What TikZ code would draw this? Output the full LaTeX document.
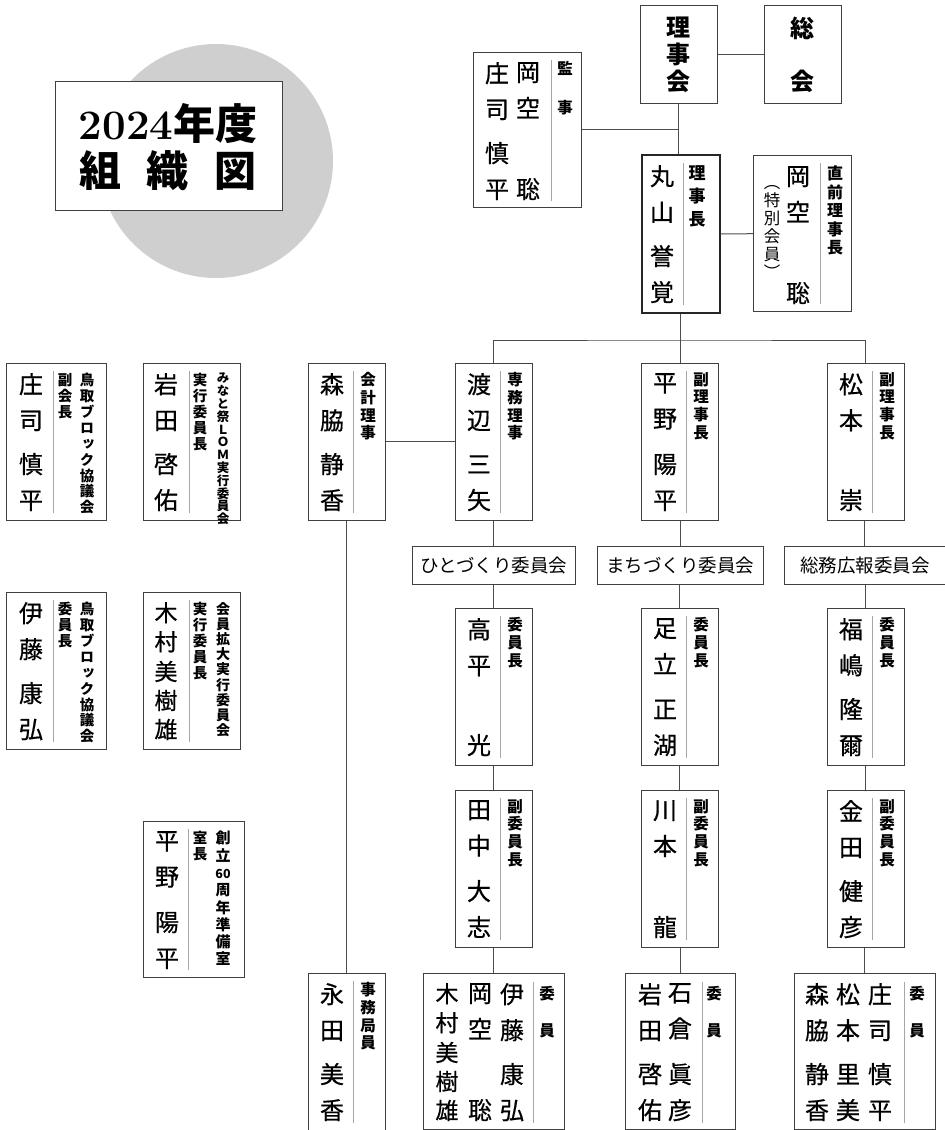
\documentclass[tikz,border=0pt]{standalone}
\usepackage{fontspec}
\newfontfamily\jp{Noto Sans CJK JP}
\newfontfamily\jpname[FakeBold=0.6]{Noto Sans CJK JP}
\newfontfamily\jpv[RawFeature=+vert]{Noto Sans CJK JP}

% vertical stacking of characters
\makeatletter
\def\tate@stop{\tate@stop}
\def\tate@#1{\ifx#1\tate@stop\else\hbox to 1em{\hss#1\hss}\expandafter\tate@\fi}
\newcommand\tate[1]{\vbox{\tate@#1\tate@stop}}
\newcommand\vname[3][136pt]{\vbox to #1{\tate@#2\tate@stop\vfill\tate@#3\tate@stop}}
\makeatother
\newcommand\sixty{\fontsize{12.5}{12.5}\selectfont 60}

\tikzset{
  card/.style={draw=black!75, line width=0.9pt, anchor=north west, inner sep=0pt,
    minimum width=77pt, minimum height=157pt},
  namecol/.style={anchor=north, inner sep=0pt, font=\jpname\fontsize{24}{36}\selectfont},
  titlecol/.style={anchor=north, inner sep=0pt, font=\jpv\bfseries\fontsize{15.5}{17.8}\selectfont},
  smalltitle/.style={titlecol, font=\jpv\bfseries\fontsize{14.5}{15.9}\selectfont},
  divider/.style={draw=black!35, line width=0.7pt},
  link/.style={draw=black!70, line width=1pt},
  bukai/.style={draw=black!75, line width=0.9pt, anchor=north west, inner sep=0pt,
    minimum height=38pt, font=\jp\fontsize{18.5}{20}\selectfont},
}

% one officer: id, x, y, family name, given name, post
\newcommand\member[6]{%
  \node[card] (#1) at (#2,#3) {};
  \node[namecol] (#1-n) at ([xshift=24pt,yshift=-10pt]#1.north west) {\vname{#4}{#5}};
  \draw[divider] ([xshift=45.5pt,yshift=-8pt]#1.north west) -- ([xshift=45.5pt,yshift=8pt]#1.south west);
  \node[titlecol] (#1-t) at ([xshift=60pt,yshift=-9pt]#1.north west) {\tate{#6}};
}

\begin{document}
\begin{tikzpicture}[x=1pt,y=-1pt]
\useasboundingbox (0,0) rectangle (945,1130);

% title
\fill[black!19] (216,161) circle (117pt);
\node[draw=black!75, line width=0.9pt, fill=white, anchor=north west, inner sep=0pt,
  minimum width=227pt, minimum height=129pt] (nendo) at (55,81) {};
\node[font=\bfseries\fontsize{42}{42}\selectfont, inner sep=0pt] (nendo-1) at (168,124) {2024{\jp 年度}};
\node[font=\jp\bfseries\fontsize{42}{42}\selectfont, inner sep=0pt] (nendo-2) at (168,171) {組\hspace{26pt}織\hspace{26pt}図};

% top
\node[card, minimum height=98pt, font=\jpv\bfseries\fontsize{24}{27}\selectfont] (rijikai) at (640,5) {\tate{理事会}};
\node[card, minimum height=98pt, font=\jpv\bfseries\fontsize{24}{53}\selectfont] (sokai) at (764,5) {\tate{総会}};

\node[card, minimum width=108pt, minimum height=155pt] (kanji) at (473,52) {};
\node[namecol] (kanji-n1) at ([xshift=55pt,yshift=-10pt]kanji.north west) {\vname{岡空}{聡}};
\node[namecol] (kanji-n2) at ([xshift=24pt,yshift=-10pt]kanji.north west) {\vname{庄司}{慎平}};
\draw[divider] ([xshift=78pt,yshift=-8pt]kanji.north west) -- ([xshift=78pt,yshift=7pt]kanji.south west);
\node[titlecol, font=\jpv\bfseries\fontsize{15.5}{39}\selectfont] (kanji-t) at ([xshift=92pt,yshift=-9pt]kanji.north west) {\tate{監事}};

\node[card, minimum width=78pt, minimum height=158pt, line width=2.2pt, draw=black!85] (rijicho) at (640.5,154) {};
\node[namecol] (rijicho-n) at ([xshift=21.5pt,yshift=-11pt]rijicho.north west) {\vname{丸山}{誉覚}};
\draw[divider] ([xshift=42.5pt,yshift=-9pt]rijicho.north west) -- ([xshift=42.5pt,yshift=9pt]rijicho.south west);
\node[titlecol, font=\jpv\bfseries\fontsize{17}{23}\selectfont] (rijicho-t) at ([xshift=56.5pt,yshift=-11pt]rijicho.north west) {\tate{理事長}};

\node[card, minimum width=98pt, minimum height=156pt] (chokuzen) at (753,155) {};
\node[namecol] (chokuzen-n) at ([xshift=45pt,yshift=-11pt]chokuzen.north west) {\vname{岡空}{聡}};
\node[namecol, font=\jpv\fontsize{16.5}{18}\selectfont] (chokuzen-s) at ([xshift=19pt,yshift=-30pt]chokuzen.north west) {\tate{︵特別会員︶}};
\draw[divider] ([xshift=67pt,yshift=-8pt]chokuzen.north west) -- ([xshift=67pt,yshift=8pt]chokuzen.south west);
\node[titlecol, font=\jpv\bfseries\fontsize{16}{18.5}\selectfont] (chokuzen-t) at ([xshift=82pt,yshift=-11pt]chokuzen.north west) {\tate{直前理事長}};

% board
\member{morikawa}{308}{363}{森脇}{静香}{会計理事}
\member{watanabe}{455}{363}{渡辺}{三矢}{専務理事}
\member{hirano}{641}{363}{平野}{陽平}{副理事長}
\member{matsumoto}{827}{363}{松本}{崇}{副理事長}

% committees
\node[bukai, minimum width=163pt] (hito) at (412,546) {ひとづくり委員会};
\node[bukai, minimum width=166pt] (machi) at (597,546) {まちづくり委員会};
\node[bukai, minimum width=161pt] (somu) at (784,546) {総務広報委員会};

\member{takahira}{455}{608}{高平}{光}{委員長}
\member{adachi}{641}{608}{足立}{正湖}{委員長}
\member{fukushima}{827}{608}{福嶋}{隆爾}{委員長}
\member{tanaka}{455}{790}{田中}{大志}{副委員長}
\member{kawamoto}{641}{790}{川本}{龍}{副委員長}
\member{kaneda}{827}{790}{金田}{健彦}{副委員長}
\member{nagata}{308}{973}{永田}{美香}{事務局員}

% committee members
\node[card, minimum width=141pt, minimum height=156pt] (iin1) at (423,973) {};
\node[namecol] (iin1-n1) at ([xshift=89pt,yshift=-10pt]iin1.north west) {\vname{伊藤}{康弘}};
\node[namecol] (iin1-n2) at ([xshift=57pt,yshift=-10pt]iin1.north west) {\vname{岡空}{聡}};
\node[namecol, font=\jpname\fontsize{23}{29}\selectfont] (iin1-n3) at ([xshift=24pt,yshift=-10pt]iin1.north west) {\vname{木村}{美樹雄}};
\draw[divider] ([xshift=110pt,yshift=-9pt]iin1.north west) -- ([xshift=110pt,yshift=7pt]iin1.south west);
\node[titlecol, font=\jpv\bfseries\fontsize{15.5}{37}\selectfont] (iin1-t) at ([xshift=124pt,yshift=-13pt]iin1.north west) {\tate{委員}};

\node[card, minimum width=110pt, minimum height=156pt] (iin2) at (625,973) {};
\node[namecol] (iin2-n1) at ([xshift=55pt,yshift=-10pt]iin2.north west) {\vname{石倉}{眞彦}};
\node[namecol] (iin2-n2) at ([xshift=25pt,yshift=-10pt]iin2.north west) {\vname{岩田}{啓佑}};
\draw[divider] ([xshift=77pt,yshift=-9pt]iin2.north west) -- ([xshift=77pt,yshift=7pt]iin2.south west);
\node[titlecol, font=\jpv\bfseries\fontsize{15.5}{37}\selectfont] (iin2-t) at ([xshift=89pt,yshift=-13pt]iin2.north west) {\tate{委員}};

\node[card, minimum width=141pt, minimum height=156pt] (iin3) at (794,973) {};
\node[namecol] (iin3-n1) at ([xshift=86pt,yshift=-10pt]iin3.north west) {\vname{庄司}{慎平}};
\node[namecol] (iin3-n2) at ([xshift=54pt,yshift=-10pt]iin3.north west) {\vname{松本}{里美}};
\node[namecol] (iin3-n3) at ([xshift=23pt,yshift=-10pt]iin3.north west) {\vname{森脇}{静香}};
\draw[divider] ([xshift=110pt,yshift=-9pt]iin3.north west) -- ([xshift=110pt,yshift=7pt]iin3.south west);
\node[titlecol, font=\jpv\bfseries\fontsize{15.5}{37}\selectfont] (iin3-t) at ([xshift=123pt,yshift=-13pt]iin3.north west) {\tate{委員}};

% outside posts
\node[card, minimum width=100pt] (shoji) at (6,363) {};
\node[namecol] (shoji-n) at ([xshift=25pt,yshift=-10pt]shoji.north west) {\vname{庄司}{慎平}};
\draw[divider] ([xshift=47pt,yshift=-8pt]shoji.north west) -- ([xshift=47pt,yshift=8pt]shoji.south west);
\node[smalltitle] (shoji-t1) at ([xshift=59pt,yshift=-10pt]shoji.north west) {\tate{副会長}};
\node[smalltitle] (shoji-t2) at ([xshift=81pt,yshift=-10pt]shoji.north west) {\tate{鳥取ブロック協議会}};

\node[card, minimum width=97pt] (iwata) at (143,363) {};
\node[namecol] (iwata-n) at ([xshift=23pt,yshift=-10pt]iwata.north west) {\vname{岩田}{啓佑}};
\draw[divider] ([xshift=46pt,yshift=-8pt]iwata.north west) -- ([xshift=46pt,yshift=8pt]iwata.south west);
\node[smalltitle] (iwata-t1) at ([xshift=57pt,yshift=-10pt]iwata.north west) {\tate{実行委員長}};
\node[smalltitle, font=\jpv\bfseries\fontsize{12.5}{12.8}\selectfont] (iwata-t2) at ([xshift=80pt,yshift=-10pt]iwata.north west) {\tate{みなと祭ＬＯＭ実行委員会}};

\node[card, minimum width=100pt] (ito) at (6,592) {};
\node[namecol] (ito-n) at ([xshift=25pt,yshift=-10pt]ito.north west) {\vname{伊藤}{康弘}};
\draw[divider] ([xshift=47pt,yshift=-8pt]ito.north west) -- ([xshift=47pt,yshift=8pt]ito.south west);
\node[smalltitle] (ito-t1) at ([xshift=59pt,yshift=-10pt]ito.north west) {\tate{委員長}};
\node[smalltitle] (ito-t2) at ([xshift=81pt,yshift=-10pt]ito.north west) {\tate{鳥取ブロック協議会}};

\node[card, minimum width=97pt] (kimura) at (143,592) {};
\node[namecol, font=\jpname\fontsize{23}{29}\selectfont] (kimura-n) at ([xshift=23pt,yshift=-10pt]kimura.north west) {\vname{木村}{美樹雄}};
\draw[divider] ([xshift=46pt,yshift=-8pt]kimura.north west) -- ([xshift=46pt,yshift=8pt]kimura.south west);
\node[smalltitle] (kimura-t1) at ([xshift=57pt,yshift=-10pt]kimura.north west) {\tate{実行委員長}};
\node[smalltitle, font=\jpv\bfseries\fontsize{14}{15.2}\selectfont] (kimura-t2) at ([xshift=80pt,yshift=-10pt]kimura.north west) {\tate{会員拡大実行委員会}};

\node[card, minimum width=101pt, minimum height=156pt] (junbi) at (143,821) {};
\node[namecol] (junbi-n) at ([xshift=24pt,yshift=-10pt]junbi.north west) {\vname{平野}{陽平}};
\draw[divider] ([xshift=45pt,yshift=-8pt]junbi.north west) -- ([xshift=45pt,yshift=8pt]junbi.south west);
\node[smalltitle] (junbi-t1) at ([xshift=57pt,yshift=-10pt]junbi.north west) {\tate{室長}};
\node[smalltitle, font=\jpv\bfseries\fontsize{15}{17.3}\selectfont] (junbi-t2) at ([xshift=80pt,yshift=-10pt]junbi.north west) {\tate{創立\sixty 周年準備室}};

% connectors
\coordinate (fork) at (679.5,340);
\draw[link] (rijikai) -- (sokai);
\draw[link] (rijikai.south) -- (rijikai.south |- rijicho.north);
\draw[link] (kanji.east) -- (kanji.east -| rijikai.south);
\draw[link] (rijicho) -- (chokuzen);
\draw[link] (rijicho.south) -- (rijicho.south |- hirano.north);
\draw[link] (watanabe.north) |- (fork) -| (matsumoto.north);
\draw[link] (morikawa) -- (watanabe);
\draw[link] (morikawa.south) -- (nagata.north);
\foreach \a/\b in {watanabe/hito, hito/takahira, takahira/tanaka, tanaka/iin1,
                   hirano/machi, machi/adachi, adachi/kawamoto, kawamoto/iin2,
                   matsumoto/somu, somu/fukushima, fukushima/kaneda, kaneda/iin3}
  \draw[link] (\b.north |- \a.south) -- (\b.north);
\end{tikzpicture}
\end{document}
